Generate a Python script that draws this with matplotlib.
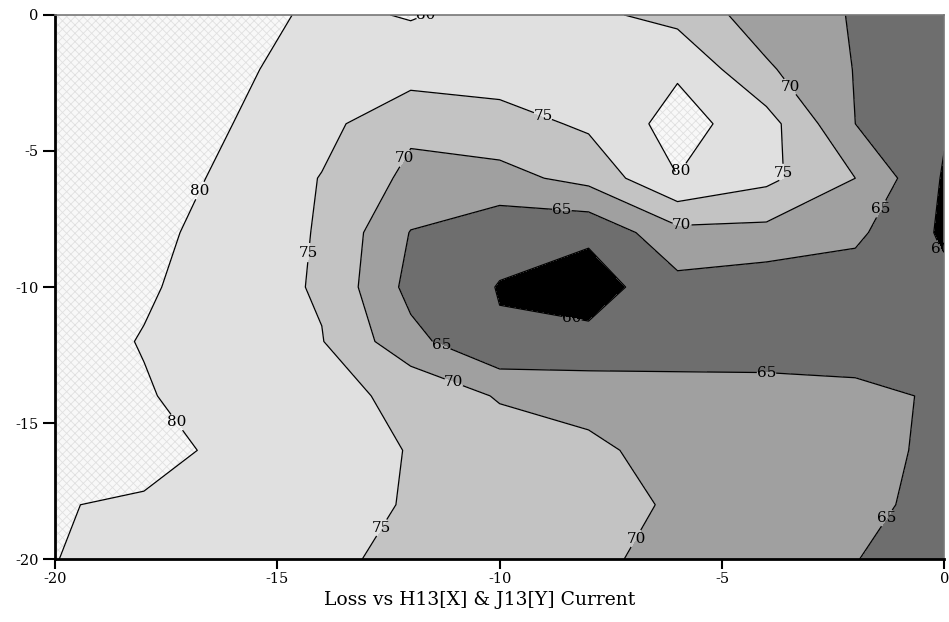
import numpy as np
import matplotlib
matplotlib.use("Agg")
import matplotlib.pyplot as plt

plt.rcParams['font.family'] = ['DejaVu Serif']
plt.rcParams['axes.unicode_minus'] = False
plt.rcParams['hatch.color'] = '#e0e0e0'
plt.rcParams['hatch.linewidth'] = 0.6

# grid of H13 (x) and J13 (y) current settings
h13 = [-20, -18, -16, -14, -12, -10, -8, -6, -4, -2, 0]
j13 = [0, -2, -4, -6, -8, -10, -12, -14, -16, -18, -20]

# loss, one row per J13 value (top to bottom)
loss = [
    [88.0, 85.0, 82.0, 79.0, 80.3, 78.5, 76.0, 73.5, 67.4, 64.7, 62.0],
    [87.0, 84.0, 81.0, 77.7, 77.5, 77.5, 78.0, 79.3, 70.7, 64.8, 61.5],
    [86.0, 83.0, 80.0, 76.5, 71.0, 73.0, 75.8, 82.0, 77.0, 65.0, 60.5],
    [85.0, 82.5, 78.9, 74.8, 68.8, 68.5, 71.5, 79.9, 76.2, 70.0, 59.5],
    [84.0, 81.5, 77.8, 74.6, 64.8, 61.5, 61.0, 68.5, 68.5, 66.0, 59.2],
    [83.0, 80.7, 77.2, 74.5, 63.5, 59.8, 57.5, 63.5, 62.0, 62.5, 61.0],
    [82.5, 79.7, 77.5, 75.2, 66.5, 60.4, 61.5, 62.5, 63.0, 63.0, 63.5],
    [82.0, 80.5, 77.2, 76.0, 74.2, 69.5, 68.0, 67.0, 66.5, 66.0, 64.5],
    [83.0, 81.5, 79.0, 77.0, 74.8, 73.0, 71.2, 67.8, 67.0, 66.5, 64.0],
    [80.2, 79.5, 78.0, 76.5, 74.7, 73.0, 71.5, 69.5, 68.0, 66.0, 63.8],
    [80.1, 78.0, 76.8, 75.5, 74.4, 73.0, 71.0, 68.5, 67.0, 65.1, 63.0],
]

levels = [50, 60, 65, 70, 75, 80, 95]
line_levels = [60, 65, 70, 75, 80]
fills = ['#000000', '#6e6e6e', '#a0a0a0', '#c3c3c3', '#e0e0e0', '#f8f8f8']

# where the contour values are written
label_spots = [(-17.2, -6.1), (-17.2, -14.9), (-11.5, -0.2), (-5.8, -5.9),
               (-14.5, -8.7), (-9.0, -3.6), (-3.3, -5.8), (-12.5, -19.0),
               (-11.9, -5.5), (-3.6, -2.8), (-5.9, -7.8), (-11.1, -13.8),
               (-7.3, -18.9), (-8.6, -7.2), (-1.0, -7.5), (-11.4, -12.5),
               (-4.0, -13.2), (-1.1, -18.7), (-8.4, -11.4), (-0.2, -8.7)]

X, Y = np.meshgrid(h13, j13)
Z = np.array(loss)

fig = plt.figure(figsize=(9.49, 6.22), dpi=100)
ax = fig.add_axes([0.058, 0.101, 0.937, 0.875])

ax.contourf(X, Y, Z, levels=levels, colors=fills,
            hatches=[None, None, None, None, None, 'xxxx'])
cs = ax.contour(X, Y, Z, levels=line_levels, colors='black', linewidths=0.9)
labels = ax.clabel(cs, fmt='%d', fontsize=11, inline=True, inline_spacing=0,
                   manual=label_spots)
for t in labels:
    t.set_rotation(0)

ax.set_xlim(-20, 0)
ax.set_ylim(-20, 0)
ax.set_xticks([-20, -15, -10, -5, 0])
ax.set_yticks([-20, -15, -10, -5, 0])
ax.tick_params(direction='out', width=1.5, labelsize=10.5)
ax.tick_params(axis='x', length=7, pad=2)
ax.tick_params(axis='y', length=9, pad=3)
ax.set_xlabel('Loss vs H13[X] & J13[Y] Current', fontsize=13.5)
ax.xaxis.set_label_coords(0.478, -0.058)

for side in ['left', 'bottom']:
    ax.spines[side].set_linewidth(2)
for side in ['top', 'right']:
    ax.spines[side].set_linewidth(1.2)
    ax.spines[side].set_color('#777777')

fig.savefig('out.png', dpi=100)
